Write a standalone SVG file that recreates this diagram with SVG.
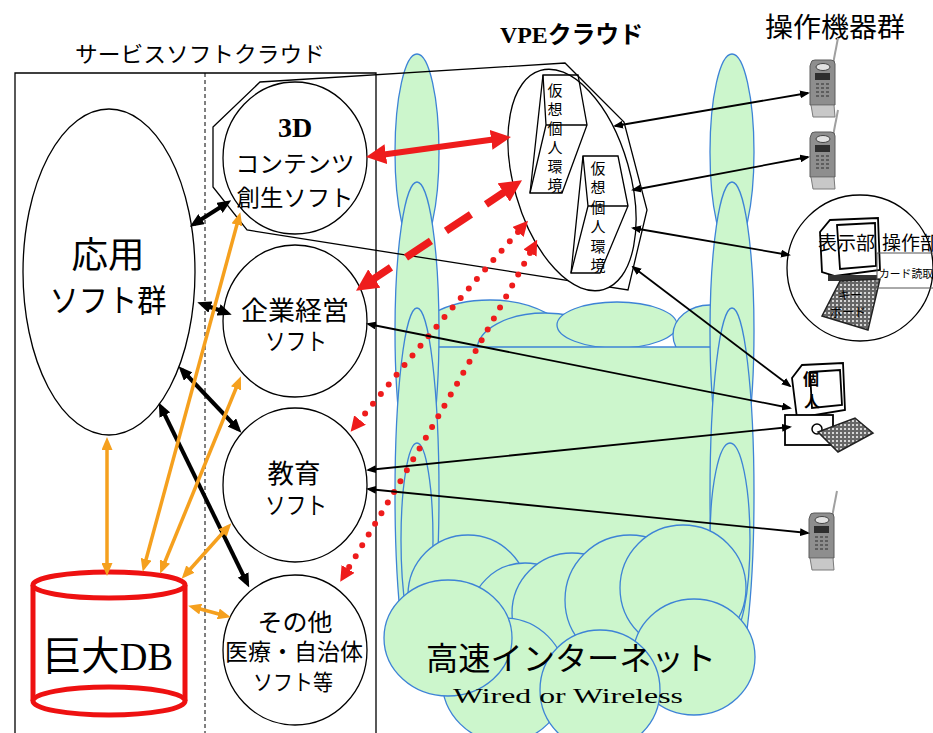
<svg xmlns="http://www.w3.org/2000/svg" width="933" height="733" viewBox="0 0 933 733">
<defs>
<style>
 .cl{fill:#ccf6cc;stroke:#3d83d6;stroke-width:1.3}
 .nd{fill:#fff;stroke:#000;stroke-width:1.3}
 .ln{fill:none;stroke:#000;stroke-width:1.3}
 .jp{font-family:"Liberation Serif","Noto Sans CJK JP",serif;fill:#000}
 .gt{font-family:"Noto Sans CJK JP","Noto Sans",sans-serif;fill:#000}
 .kb{fill:none;stroke:#000;stroke-width:4;marker-start:url(#hb);marker-end:url(#hb)}
 .th{fill:none;stroke:#000;stroke-width:1.8;marker-start:url(#ht);marker-end:url(#ht)}
 .or{fill:none;stroke:#f5a01e;stroke-width:3.5;marker-start:url(#ho);marker-end:url(#ho)}
 .rs{fill:none;stroke:#ee1c1c;stroke-width:6;marker-start:url(#hr);marker-end:url(#hr)}
 .rd{fill:none;stroke:#ee1c1c;stroke-width:7.5;stroke-dasharray:30 18;marker-start:url(#hd);marker-end:url(#hd)}
 .rp{fill:none;stroke:#ee1c1c;stroke-width:6;stroke-linecap:round;stroke-dasharray:0 12.5;marker-start:url(#hp);marker-end:url(#hp)}
 .dev{fill:#fff;stroke:#000;stroke-width:1.8}
</style>
<marker id="hb" viewBox="0 0 14 12" markerWidth="14" markerHeight="12" refX="9" refY="6" orient="auto-start-reverse" markerUnits="userSpaceOnUse"><path d="M0,0L14,6L0,12z" fill="#000"/></marker>
<marker id="ht" viewBox="0 0 10 8" markerWidth="10" markerHeight="8" refX="8" refY="4" orient="auto-start-reverse" markerUnits="userSpaceOnUse"><path d="M0,0L10,4L0,8z" fill="#000"/></marker>
<marker id="ho" viewBox="0 0 13 11" markerWidth="13" markerHeight="11" refX="8" refY="5.5" orient="auto-start-reverse" markerUnits="userSpaceOnUse"><path d="M0,0L13,5.5L0,11z" fill="#f5a01e"/></marker>
<marker id="hr" viewBox="0 0 20 20" markerWidth="20" markerHeight="20" refX="13" refY="10" orient="auto-start-reverse" markerUnits="userSpaceOnUse"><path d="M0,0L20,10L0,20z" fill="#ee1c1c"/></marker>
<marker id="hd" viewBox="0 0 22 22" markerWidth="22" markerHeight="22" refX="10" refY="11" orient="auto-start-reverse" markerUnits="userSpaceOnUse"><path d="M0,0L22,11L0,22z" fill="#ee1c1c"/></marker>
<marker id="hp" viewBox="0 0 15 15" markerWidth="15" markerHeight="15" refX="0" refY="7.5" orient="auto-start-reverse" markerUnits="userSpaceOnUse"><path d="M0,0L15,7.5L0,15z" fill="#ee1c1c"/></marker>
<pattern id="keys" width="4" height="4" patternUnits="userSpaceOnUse"><rect width="4" height="4" fill="#666"/><rect width="2" height="2" fill="#d6d6d6"/></pattern>
<!-- handset: body 25 x 57 with antenna -->
<g id="phone">
 <line x1="23" y1="4" x2="28" y2="-22" stroke="#a0a0a0" stroke-width="2"/>
 <path d="M1,3Q1,0 5,0H21Q25,0 25,4V45H0V6Z" fill="#8e8e8e" stroke="#5a5a5a"/>
 <ellipse cx="13" cy="7" rx="7" ry="3.5" fill="#e2e2e2" stroke="#444"/>
 <rect x="5" y="13" width="15" height="7" fill="#2e2e2e"/>
 <g fill="#5e5e5e">
  <rect x="6" y="23" width="3" height="2"/><rect x="11" y="23" width="3" height="2"/><rect x="16" y="23" width="3" height="2"/>
  <rect x="6" y="27" width="3" height="2"/><rect x="11" y="27" width="3" height="2"/><rect x="16" y="27" width="3" height="2"/>
  <rect x="6" y="31" width="3" height="2"/><rect x="11" y="31" width="3" height="2"/><rect x="16" y="31" width="3" height="2"/>
  <rect x="6" y="35" width="3" height="2"/><rect x="11" y="35" width="3" height="2"/><rect x="16" y="35" width="3" height="2"/>
 </g>
 <path d="M1,45H24L25,57H3Z" fill="#c8c8c8" stroke="#7a7a7a"/>
</g>
</defs>

<rect width="933" height="733" fill="#fff"/>

<!-- service software cloud frame -->
<g id="service-cloud">
 <text class="jp" x="75" y="62" font-size="22" textLength="250" lengthAdjust="spacingAndGlyphs">サービスソフトクラウド</text>
 <path class="ln" d="M15,740V73H376V740"/>
 <line x1="205" y1="73" x2="205" y2="733" stroke="#000" stroke-width="1" stroke-dasharray="4 3"/>
</g>

<!-- high-speed internet cloud -->
<g id="internet">
 <ellipse class="cl" cx="490" cy="345" rx="80" ry="45"/>
 <ellipse class="cl" cx="545" cy="350" rx="68" ry="37"/>
 <ellipse class="cl" cx="617" cy="325" rx="60" ry="23"/>
 <ellipse class="cl" cx="710" cy="335" rx="37" ry="30"/>
 <rect x="437" y="347" width="276" height="255" fill="#ccf6cc"/>
 <line x1="437" y1="347" x2="713" y2="347" stroke="#3d83d6" stroke-width="1.3"/>
 <ellipse class="cl" cx="417" cy="152" rx="22" ry="98"/>
 <ellipse class="cl" cx="417" cy="331" rx="22" ry="149"/>
 <ellipse class="cl" cx="417" cy="494" rx="22" ry="186"/>
 <ellipse class="cl" cx="417" cy="540" rx="16" ry="97"/>
 <ellipse class="cl" cx="732" cy="152" rx="22" ry="98"/>
 <ellipse class="cl" cx="732" cy="331" rx="22" ry="149"/>
 <ellipse class="cl" cx="732" cy="494" rx="22" ry="186"/>
 <ellipse class="cl" cx="730" cy="540" rx="20" ry="97"/>
 <circle class="cl" cx="468" cy="595" r="60"/>
 <circle class="cl" cx="525" cy="618" r="55"/>
 <circle class="cl" cx="572" cy="613" r="60"/>
 <circle class="cl" cx="630" cy="600" r="65"/>
 <circle class="cl" cx="683" cy="588" r="63"/>
 <ellipse class="cl" cx="694" cy="657" rx="61" ry="58"/>
 <circle class="cl" cx="504" cy="680" r="62"/>
 <circle class="cl" cx="600" cy="690" r="60"/>
 <ellipse class="cl" cx="448" cy="638" rx="64" ry="58"/>
 <text class="jp" x="426" y="670" font-size="32" textLength="290" lengthAdjust="spacingAndGlyphs">高速インターネット</text>
 <text class="jp" x="453" y="703" font-size="22" textLength="230" lengthAdjust="spacingAndGlyphs">Wired or Wireless</text>
</g>

<!-- VPE cloud -->
<g id="vpe-cloud">
 <text class="jp" x="500" y="43" font-size="24" font-weight="bold" textLength="143" lengthAdjust="spacingAndGlyphs">VPEクラウド</text>
 <path class="ln" d="M213,127L260,82L565,63L624,122L647,210L628,290L247,230L213,187Z"/>
 <ellipse class="nd" cx="572" cy="180" rx="114" ry="58" transform="rotate(74 572 180)"/>
 <g class="ln" stroke-width="1.6">
  <path d="M543,75H578L587,125L562,193H530Z"/>
  <path d="M543,75L546,125H587M546,125L530,193"/>
  <path d="M583,156H618L628,206L600,273H571Z"/>
  <path d="M583,156L588,206H628M588,206L571,273"/>
 </g>
 <text class="gt" font-size="15" text-anchor="middle">
  <tspan x="555" y="96">仮</tspan><tspan x="555" y="115">想</tspan><tspan x="555" y="134">個</tspan><tspan x="555" y="153">人</tspan><tspan x="555" y="172">環</tspan><tspan x="555" y="191">境</tspan>
 </text>
 <text class="gt" font-size="15" text-anchor="middle">
  <tspan x="598" y="174">仮</tspan><tspan x="598" y="193">想</tspan><tspan x="598" y="213">個</tspan><tspan x="598" y="232">人</tspan><tspan x="598" y="252">環</tspan><tspan x="598" y="271">境</tspan>
 </text>
</g>

<!-- application software group -->
<g id="app-soft">
 <ellipse class="nd" cx="109" cy="272" rx="86" ry="163"/>
 <text class="jp" x="108" y="268" font-size="36" text-anchor="middle" textLength="73" lengthAdjust="spacingAndGlyphs">応用</text>
 <text class="jp" x="108" y="312" font-size="32" text-anchor="middle" textLength="117" lengthAdjust="spacingAndGlyphs">ソフト群</text>
</g>

<g id="soft-3d">
 <ellipse class="nd" cx="295" cy="158" rx="72" ry="76"/>
 <text class="jp" x="295" y="137" font-size="28" font-weight="bold" text-anchor="middle">3D</text>
 <text class="jp" x="295" y="172" font-size="23" text-anchor="middle" textLength="119" lengthAdjust="spacingAndGlyphs">コンテンツ</text>
 <text class="jp" x="295" y="206" font-size="23" text-anchor="middle" textLength="117" lengthAdjust="spacingAndGlyphs">創生ソフト</text>
</g>

<g id="soft-biz">
 <ellipse class="nd" cx="295" cy="321" rx="72" ry="76"/>
 <text class="jp" x="295" y="320" font-size="26" text-anchor="middle" textLength="108" lengthAdjust="spacingAndGlyphs">企業経営</text>
 <text class="jp" x="296" y="350" font-size="24" text-anchor="middle" textLength="62" lengthAdjust="spacingAndGlyphs">ソフト</text>
</g>

<g id="soft-edu">
 <ellipse class="nd" cx="295" cy="485" rx="72" ry="77"/>
 <text class="jp" x="294" y="483" font-size="26" text-anchor="middle" textLength="53" lengthAdjust="spacingAndGlyphs">教育</text>
 <text class="jp" x="296" y="514" font-size="24" text-anchor="middle" textLength="62" lengthAdjust="spacingAndGlyphs">ソフト</text>
</g>

<g id="soft-other">
 <ellipse class="nd" cx="295" cy="650" rx="72" ry="75"/>
 <text class="jp" x="295" y="631" font-size="24" text-anchor="middle" textLength="75" lengthAdjust="spacingAndGlyphs">その他</text>
 <text class="jp" x="294" y="660" font-size="23" text-anchor="middle" textLength="138" lengthAdjust="spacingAndGlyphs">医療・自治体</text>
 <text class="jp" x="293" y="690" font-size="22" text-anchor="middle" textLength="80" lengthAdjust="spacingAndGlyphs">ソフト等</text>
</g>

<!-- large database -->
<g id="big-db" fill="#fff" stroke="#ee1111" stroke-width="5">
 <path d="M33,585V701H185V585Z" stroke="none"/>
 <line x1="33" y1="585" x2="33" y2="701"/>
 <line x1="185" y1="585" x2="185" y2="701"/>
 <ellipse cx="109" cy="585" rx="76" ry="13"/>
 <ellipse cx="109" cy="701" rx="76" ry="14"/>
 <text class="jp" x="43" y="670" font-size="40" stroke="none" fill="#000" textLength="130" lengthAdjust="spacingAndGlyphs">巨大DB</text>
</g>

<!-- operating devices -->
<g id="devices-title">
 <text class="gt" x="765" y="37" font-size="27" textLength="140" lengthAdjust="spacingAndGlyphs">操作機器群</text>
</g>
<g id="phone-1"><use href="#phone" x="810" y="60"/></g>
<g id="phone-2"><use href="#phone" x="810" y="132"/></g>
<g id="phone-3"><use href="#phone" x="809" y="513"/></g>

<g id="terminal">
 <circle class="nd" cx="860" cy="268" r="73"/>
 <path class="dev" d="M820,232L830,220L878,218L880,270L835,276L822,272Z"/>
 <path class="dev" d="M837,225L875,223L876,266L840,269Z" stroke-width="1.5"/>
 <path d="M828,275H877V281H828Z" fill="#333"/>
 <path d="M840,281L880,279L868,330L822,316Z" fill="url(#keys)" stroke="#222" stroke-width="1.5"/>
 <g stroke="#555" stroke-width="1" fill="none">
  <path d="M877,253H933M870,288H933M877,253V288"/>
 </g>
 <text class="gt" x="818" y="250" font-size="19" textLength="57" lengthAdjust="spacingAndGlyphs">表示部</text>
 <text class="gt" x="882" y="250" font-size="19">操作部</text>
 <text class="gt" x="879" y="278" font-size="11" textLength="54" lengthAdjust="spacingAndGlyphs">カード読取</text>
 <text class="gt" x="838" y="300" font-size="12">キー</text>
 <text class="gt" x="830" y="317" font-size="12">ボード</text>
</g>

<g id="pc">
 <path class="dev" d="M792,378L802,365L843,363L845,410L797,418Z" stroke-width="2"/>
 <path class="dev" d="M810,372L840,370L842,405L812,408Z" stroke-width="1.5"/>
 <rect class="dev" x="785" y="415" width="48" height="30" stroke-width="2"/>
 <circle cx="817" cy="429" r="5" fill="none" stroke="#000" stroke-width="1.5"/>
 <path d="M818,432L855,418L873,433L838,452Z" fill="url(#keys)" stroke="#222" stroke-width="1.5"/>
 <text class="gt" x="811" y="385" font-size="16" font-weight="bold" text-anchor="middle">個</text>
 <text class="gt" x="812" y="407" font-size="16" font-weight="bold" text-anchor="middle">人</text>
</g>

<!-- connectors -->
<g id="connectors">
 <line class="kb" x1="194" y1="224" x2="227" y2="203"/>
 <line class="kb" x1="202" y1="304" x2="227" y2="313"/>
 <line class="kb" x1="182" y1="370" x2="238" y2="429"/>
 <line class="kb" x1="161" y1="407" x2="247" y2="583"/>

 <line class="or" x1="107" y1="442" x2="107" y2="571"/>
 <line class="or" x1="144" y1="567" x2="239" y2="217"/>
 <line class="or" x1="162" y1="569" x2="239" y2="381"/>
 <line class="or" x1="185" y1="575" x2="228" y2="527"/>
 <line class="or" x1="193" y1="607" x2="226" y2="616"/>

 <line class="rs" x1="373" y1="156" x2="504" y2="138"/>
 <line class="rd" x1="366" y1="284" x2="512" y2="187"/>
 <path class="rp" d="M518,232Q440,320 360,420"/>
 <path class="rp" d="M530,253Q450,400 348,569"/>

 <line class="th" x1="615" y1="126" x2="808" y2="93"/>
 <line class="th" x1="633" y1="190" x2="808" y2="157"/>
 <line class="th" x1="633" y1="228" x2="789" y2="255"/>
 <line class="th" x1="633" y1="267" x2="790" y2="386"/>
 <line class="th" x1="368" y1="324" x2="790" y2="408"/>
 <line class="th" x1="368" y1="470" x2="790" y2="427"/>
 <line class="th" x1="368" y1="489" x2="808" y2="533"/>
</g>
</svg>
